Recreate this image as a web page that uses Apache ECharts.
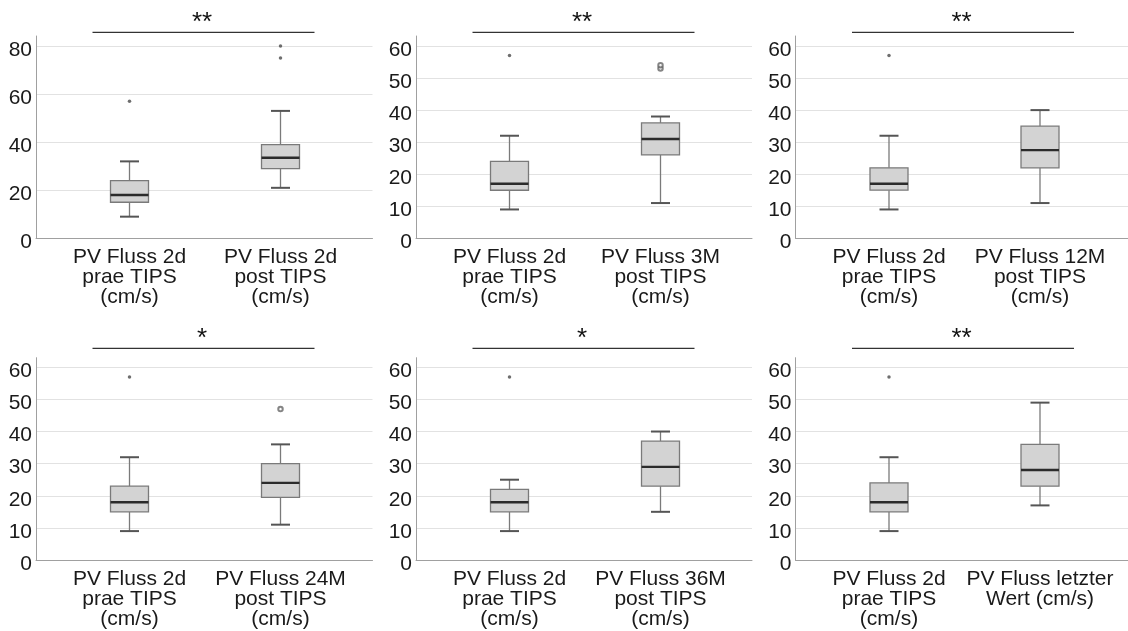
<!DOCTYPE html>
<html>
<head>
<meta charset="utf-8">
<script src="https://cdn.jsdelivr.net/npm/echarts@6/dist/echarts.min.js"></script>
<style>
html,body{margin:0;padding:0;background:#fff;}
#chart{width:1128px;height:631px;}
</style>
</head>
<body>
<div id="chart"></div>
<script>
// ---- Data ----
const categories1 = ['PV Fluss 2d\nprae TIPS\n(cm/s)', 'PV Fluss 2d\npost TIPS\n(cm/s)'];
const categories2 = ['PV Fluss 2d\nprae TIPS\n(cm/s)', 'PV Fluss 3M\npost TIPS\n(cm/s)'];
const categories3 = ['PV Fluss 2d\nprae TIPS\n(cm/s)', 'PV Fluss 12M\npost TIPS\n(cm/s)'];
const categories4 = ['PV Fluss 2d\nprae TIPS\n(cm/s)', 'PV Fluss 24M\npost TIPS\n(cm/s)'];
const categories5 = ['PV Fluss 2d\nprae TIPS\n(cm/s)', 'PV Fluss 36M\npost TIPS\n(cm/s)'];
const categories6 = ['PV Fluss 2d\nprae TIPS\n(cm/s)', 'PV Fluss letzter\nWert (cm/s)'];

// [min whisker, Q1, median, Q3, max whisker]
const boxes1 = [[9, 15, 18, 24, 32], [21, 29, 33.5, 39, 53]];
const boxes2 = [[9, 15, 17, 24, 32], [11, 26, 31, 36, 38]];
const boxes3 = [[9, 15, 17, 22, 32], [11, 22, 27.5, 35, 40]];
const boxes4 = [[9, 15, 18, 23, 32], [11, 19.5, 24, 30, 36]];
const boxes5 = [[9, 15, 18, 22, 25], [15, 23, 29, 37, 40]];
const boxes6 = [[9, 15, 18, 24, 32], [17, 23, 28, 36, 49]];

// extreme values (asterisks) : [category index, value]
const extremes1 = [[0, 57], [1, 75], [1, 80]];
const extremes2 = [[0, 57]];
const extremes3 = [[0, 57]];
const extremes4 = [[0, 57]];
const extremes5 = [[0, 57]];
const extremes6 = [[0, 57]];

// outliers (circles)
const outliers1 = [];
const outliers2 = [[1, 53], [1, 54]];
const outliers3 = [];
const outliers4 = [[1, 47]];
const outliers5 = [];
const outliers6 = [];

const yMaxes = [80, 60, 60, 60, 60, 60];
const yIntervals = [20, 10, 10, 10, 10, 10];
const significance = ['**', '**', '**', '*', '*', '**'];

// ---- Layout ----
const FONT = "'Liberation Sans', Arial, sans-serif";
const panels = [
  {cats: categories1, boxes: boxes1, ext: extremes1, out: outliers1},
  {cats: categories2, boxes: boxes2, ext: extremes2, out: outliers2},
  {cats: categories3, boxes: boxes3, ext: extremes3, out: outliers3},
  {cats: categories4, boxes: boxes4, ext: extremes4, out: outliers4},
  {cats: categories5, boxes: boxes5, ext: extremes5, out: outliers5},
  {cats: categories6, boxes: boxes6, ext: extremes6, out: outliers6}
];
const LEFTS = [36, 416, 795.5];
const WIDTHS = [336.5, 336, 332.5];
const FRAME_TOP = [36, 357.7];
const MAIN_TOP = [46, 367.3];
const AXIS_Y = [238.3, 560];
const SIG_Y = [32.3, 348.3];
const STAR_Y = [22.5, 338.5];

const grid = [], xAxis = [], yAxis = [], series = [], graphic = [];

function renderBox(params, api) {
  const x = api.value(0);
  const lo = api.coord([x, api.value(1)]);
  const q1 = api.coord([x, api.value(2)]);
  const md = api.coord([x, api.value(3)]);
  const q3 = api.coord([x, api.value(4)]);
  const hi = api.coord([x, api.value(5)]);
  const cx = lo[0];
  const hw = 19, cw = 9.5;
  const wStyle = {stroke: '#7a7a7a', lineWidth: 1.3};
  const cStyle = {stroke: '#555555', lineWidth: 2};
  return {
    type: 'group',
    children: [
      {type: 'line', shape: {x1: cx, y1: hi[1], x2: cx, y2: q3[1]}, style: wStyle},
      {type: 'line', shape: {x1: cx, y1: q1[1], x2: cx, y2: lo[1]}, style: wStyle},
      {type: 'line', shape: {x1: cx - cw, y1: hi[1], x2: cx + cw, y2: hi[1]}, style: cStyle},
      {type: 'line', shape: {x1: cx - cw, y1: lo[1], x2: cx + cw, y2: lo[1]}, style: cStyle},
      {type: 'rect', shape: {x: cx - hw, y: q3[1], width: 2 * hw, height: q1[1] - q3[1]},
        style: {fill: '#d3d3d3', stroke: '#7a7a7a', lineWidth: 1.3}},
      {type: 'line', shape: {x1: cx - hw, y1: md[1], x2: cx + hw, y2: md[1]},
        style: {stroke: '#2b2b2b', lineWidth: 2.4}}
    ]
  };
}

panels.forEach((p, i) => {
  const row = Math.floor(i / 3), col = i % 3;
  const L = LEFTS[col], W = WIDTHS[col];
  const yMax = yMaxes[i], step = yIntervals[i];

  // frame grid (axis lines)
  const gF = grid.length;
  grid.push({left: L, top: FRAME_TOP[row], width: W, height: AXIS_Y[row] - FRAME_TOP[row]});
  xAxis.push({gridIndex: gF, type: 'value', min: 0, max: 1,
    axisLine: {show: true, lineStyle: {color: '#a0a0a0', width: 1}},
    axisTick: {show: false}, axisLabel: {show: false}, splitLine: {show: false}});
  yAxis.push({gridIndex: gF, type: 'value', min: 0, max: 1,
    axisLine: {show: true, lineStyle: {color: '#a0a0a0', width: 1}},
    axisTick: {show: false}, axisLabel: {show: false}, splitLine: {show: false}});

  // main grid (y labels + grid lines)
  const gM = grid.length;
  grid.push({left: L, top: MAIN_TOP[row], width: W, height: AXIS_Y[row] - MAIN_TOP[row]});
  xAxis.push({gridIndex: gM, type: 'value', min: 0, max: 1, show: false});
  yAxis.push({gridIndex: gM, type: 'value', min: 0, max: yMax, interval: step,
    axisLine: {show: false}, axisTick: {show: false},
    splitLine: {show: true, lineStyle: {color: '#e2e2e2', width: 1}},
    axisLabel: {fontSize: 21, color: '#1a1a1a', fontFamily: FONT, margin: 4,
      verticalAlign: 'top', lineHeight: 8}});

  // box grid (categories)
  const gB = grid.length;
  grid.push({left: L + 18, top: MAIN_TOP[row], width: 302, height: AXIS_Y[row] - MAIN_TOP[row]});
  xAxis.push({gridIndex: gB, type: 'category', data: p.cats,
    axisLine: {show: false}, axisTick: {show: false}, splitLine: {show: false},
    axisLabel: {interval: 0, fontSize: 21, lineHeight: 20, margin: 9, color: '#1a1a1a', fontFamily: FONT}});
  yAxis.push({gridIndex: gB, type: 'value', min: 0, max: yMax, show: false});

  series.push({
    type: 'custom', xAxisIndex: gB, yAxisIndex: gB,
    data: p.boxes.map((b, k) => [k].concat(b)),
    encode: {x: 0, y: [1, 2, 3, 4, 5]},
    renderItem: renderBox, silent: true, z: 3
  });
  series.push({
    type: 'scatter', xAxisIndex: gB, yAxisIndex: gB, data: p.ext,
    symbol: 'circle', symbolSize: 3.5, itemStyle: {color: '#4a4a4a'}, silent: true, z: 4
  });
  series.push({
    type: 'scatter', xAxisIndex: gB, yAxisIndex: gB, data: p.out,
    symbol: 'emptyCircle', symbolSize: 4.5,
    itemStyle: {color: '#666', borderColor: '#666', borderWidth: 1}, silent: true, z: 4
  });

  // significance bracket
  graphic.push({type: 'line', shape: {x1: L + 56.5, y1: SIG_Y[row], x2: L + 278.5, y2: SIG_Y[row]},
    style: {stroke: '#000', lineWidth: 1}, silent: true});
  graphic.push({type: 'text', x: L + 166, y: STAR_Y[row],
    style: {text: significance[i], font: '26px ' + FONT, fill: '#111', textAlign: 'center', textVerticalAlign: 'middle'},
    silent: true});
});

const chart = echarts.init(document.getElementById('chart'), null, {renderer: 'canvas'});
chart.setOption({
  animation: false,
  backgroundColor: '#fff',
  grid, xAxis, yAxis, series, graphic
});
</script>
</body>
</html>
